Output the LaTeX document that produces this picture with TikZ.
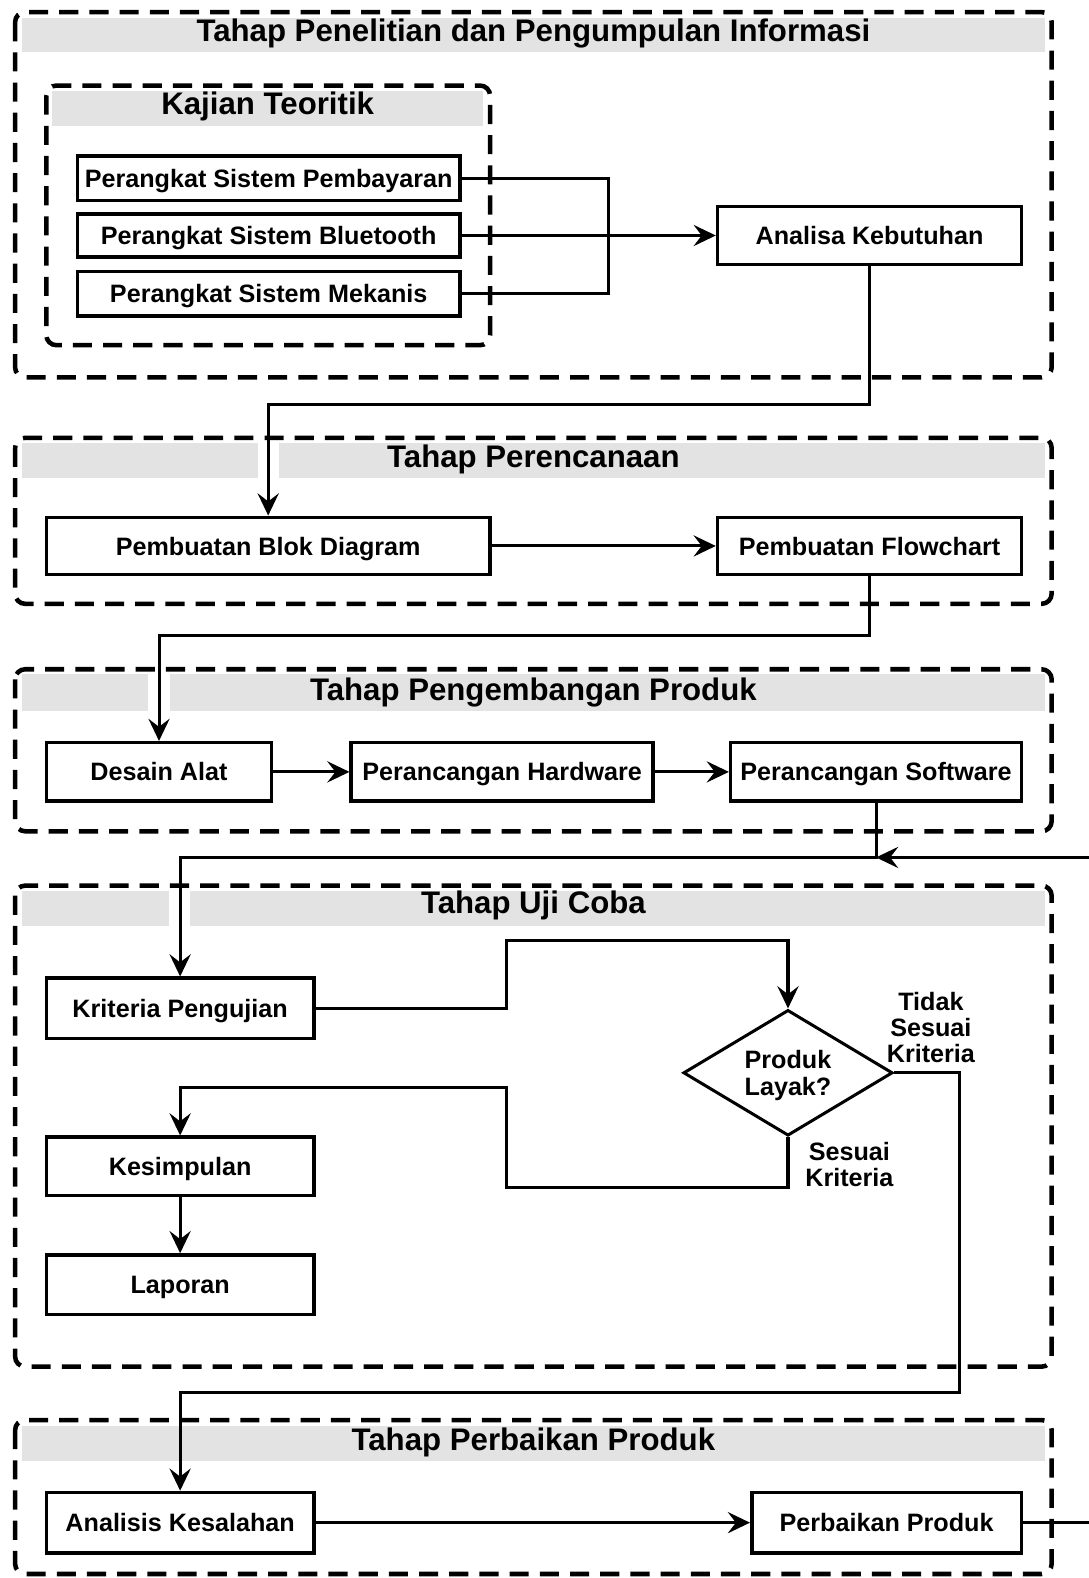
\documentclass[tikz,border=0pt]{standalone}
\usepackage{fontspec}
\setmainfont{Liberation Sans}
\usetikzlibrary{arrows.meta,shapes.geometric,calc}

\tikzset{
  phase/.style={line width=4.5pt, dash pattern=on 19pt off 11pt, rounded corners=10pt},
  band/.style={fill=black!11, draw=none},
  phasetitle/.style={font=\bfseries\fontsize{31}{34}\selectfont, inner sep=0pt, anchor=center},
  box/.style={draw, line width=3.5pt, inner sep=0pt, align=center,
    text height=18pt, text depth=0pt,
    font=\bfseries\fontsize{25}{26}\selectfont},
  decision/.style={diamond, draw, line width=3pt, inner sep=0pt, aspect=1.66,
    minimum width=208pt, minimum height=125pt, align=center, text depth=0pt,
    font=\bfseries\fontsize{25}{26}\selectfont},
  lbl/.style={inner sep=0pt, align=center, font=\bfseries\fontsize{25}{26}\selectfont},
  link/.style={line width=3pt},
  arr/.style={line width=3pt, -{Stealth[length=22pt, width=21pt, inset=8pt]}},
}

\begin{document}
\begin{tikzpicture}[x=1pt, y=-1pt]
\useasboundingbox (0,0) rectangle (1082,1568);
\fill[white] (0,0) rectangle (1082,1568);

% ---------- phase containers ----------
% Tahap Penelitian dan Pengumpulan Informasi
\fill[band] (22,18) rectangle (1038,52);
\draw[phase] (15,12) rectangle (1045,375);
\node[phasetitle] (t1) at (530,33) {Tahap Penelitian dan Pengumpulan Informasi};
% Kajian Teoritik (nested)
\fill[band] (52,90) rectangle (480,125);
\draw[phase] (46,85) rectangle (487,343);
\node[phasetitle] (tk) at (266,106) {Kajian Teoritik};

% Tahap Perencanaan
\fill[band] (22,440) rectangle (1038,475);
\fill[white] (256,440) rectangle (277,475);
\draw[phase] (15,435) rectangle (1045,600);
\node[phasetitle] (t2) at (530,457) {Tahap Perencanaan};

% Tahap Pengembangan Produk
\fill[band] (22,670) rectangle (1038,706);
\fill[white] (147,670) rectangle (169,706);
\draw[phase] (15,665) rectangle (1045,826);
\node[phasetitle] (t3) at (530,688) {Tahap Pengembangan Produk};

% Tahap Uji Coba
\fill[band] (22,885) rectangle (1038,920);
\fill[white] (168,885) rectangle (189,920);
\draw[phase] (15,880) rectangle (1045,1358);
\node[phasetitle] (t4) at (530,900) {Tahap Uji Coba};

% Tahap Perbaikan Produk
\fill[band] (22,1417) rectangle (1038,1452);
\draw[phase] (15,1411) rectangle (1045,1564);
\node[phasetitle] (t5) at (530,1433) {Tahap Perbaikan Produk};

% ---------- process boxes ----------
\node[box, minimum width=380pt, minimum height=44pt] (pem) at (267,177) {Perangkat Sistem Pembayaran};
\node[box, minimum width=380pt, minimum height=43pt] (blu) at (267,234) {Perangkat Sistem Bluetooth};
\node[box, minimum width=380pt, minimum height=44pt] (mek) at (267,292) {Perangkat Sistem Mekanis};
\node[box, minimum width=302pt, minimum height=58pt] (ana) at (864,234) {Analisa Kebutuhan};

\node[box, minimum width=441pt, minimum height=57pt] (blok) at (266.5,542.5) {Pembuatan Blok Diagram};
\node[box, minimum width=302pt, minimum height=57pt] (flow) at (864,542.5) {Pembuatan Flowchart};

\node[box, minimum width=224pt, minimum height=58pt] (des) at (158,767) {Desain Alat};
\node[box, minimum width=300pt, minimum height=58pt] (hw) at (499,767) {Perancangan Hardware};
\node[box, minimum width=289pt, minimum height=58pt] (sw) at (870.5,767) {Perancangan Software};

\node[box, minimum width=266pt, minimum height=60pt] (kri) at (179,1002) {Kriteria Pengujian};
\node[decision] (dia) at (783,1066) {Produk\\Layak?};
\node[box, minimum width=266pt, minimum height=58pt] (kes) at (179,1159) {Kesimpulan};
\node[box, minimum width=266pt, minimum height=59pt] (lap) at (179,1276.5) {Laporan};

\node[box, minimum width=266pt, minimum height=60pt] (anl) at (179,1513) {Analisis Kesalahan};
\node[box, minimum width=268pt, minimum height=60pt] (per) at (881,1513) {Perbaikan Produk};

% decision labels
\node[lbl] (ltidak) at (925,1021) {Tidak\\Sesuai\\Kriteria};
\node[lbl] (lsesuai) at (844,1157) {Sesuai\\Kriteria};

% ---------- routing points ----------
\coordinate (merge) at (605,234);
\coordinate (r1) at (0,402);
\coordinate (r2) at (0,631);
\coordinate (r3) at (0,852);
\coordinate (k1) at (503,935);
\coordinate (s1) at (503,1180);
\coordinate (s2) at (503,1081);
\coordinate (f1) at (953,1384);
\coordinate (back) at (1084,852);

% ---------- connectors ----------
\draw[link] (pem.east) -| (merge) |- (mek.east);
\draw[arr] (blu.east) -- (ana.west);
\draw[arr] (ana.south) |- (r1 -| blok.north) -- (blok.north);

\draw[arr] (blok.east) -- (flow.west);
\draw[arr] (flow.south) |- (r2 -| des.north) -- (des.north);

\draw[arr] (des.east) -- (hw.west);
\draw[arr] (hw.east) -- (sw.west);
\draw[arr] (sw.south) |- (r3 -| kri.north) -- (kri.north);

\draw[arr] (kri.east) -| (k1) -| (dia.north);
\draw[arr] (dia.south) |- (s1) -- (s2) -| (kes.north);
\draw[arr] (kes.south) -- (lap.north);
\draw[arr] (dia.east) -| (f1) -| (anl.north);

\draw[arr] (anl.east) -- (per.west);
\draw[arr] (per.east) -| (back) -- (back -| sw.south);
\end{tikzpicture}
\end{document}
